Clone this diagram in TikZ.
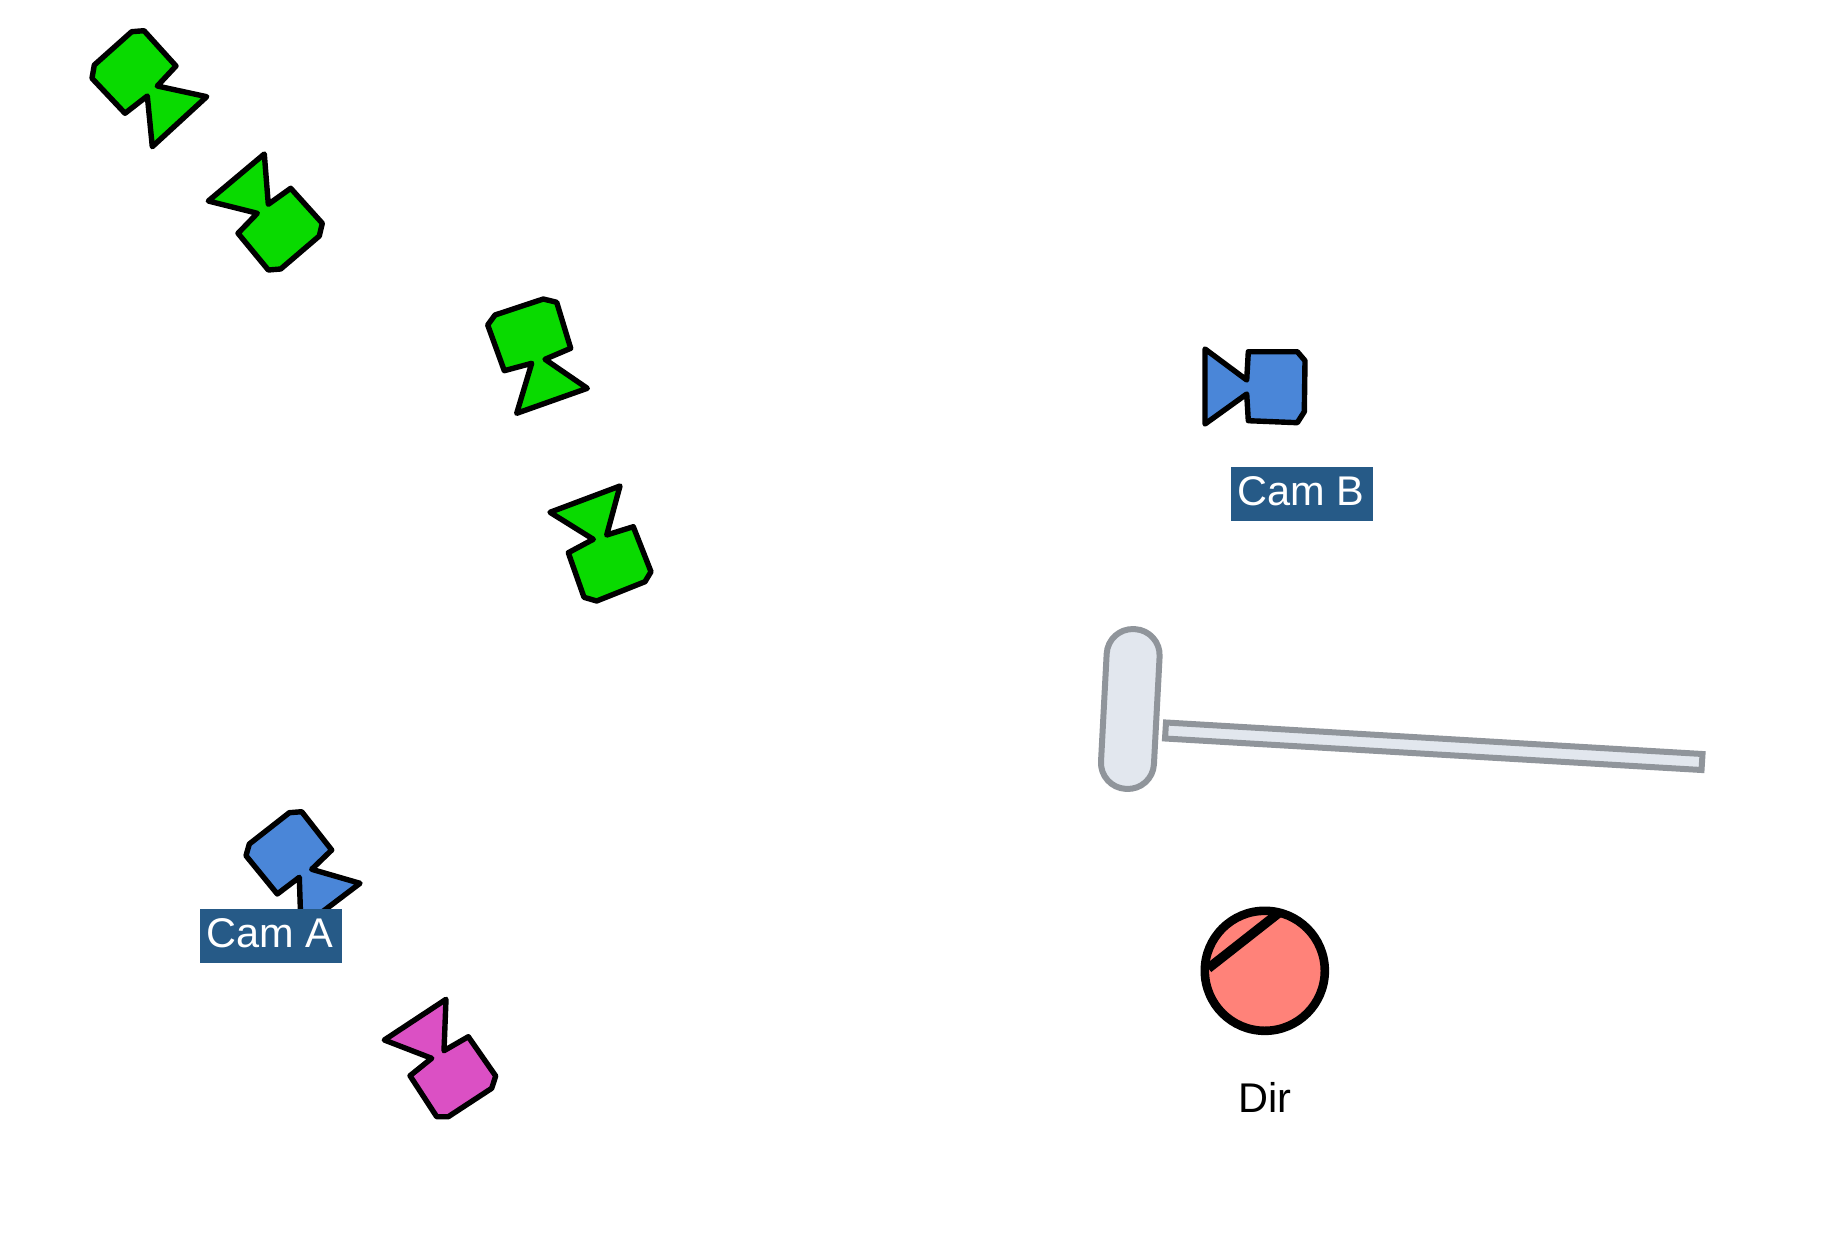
\documentclass[tikz,border=0pt]{standalone}
\usepackage{fontspec}
\setmainfont{Liberation Sans}
\definecolor{camgreen}{HTML}{09DA00}
\definecolor{camblue}{HTML}{4A86D8}
\definecolor{cammagenta}{HTML}{DB50C4}
\definecolor{labelblue}{HTML}{265A87}
\definecolor{propfill}{HTML}{E2E7EE}
\definecolor{propline}{HTML}{90959B}
\definecolor{dirfill}{HTML}{FF8279}
\tikzset{
  cam/.style={draw=black,line width=5.4pt,line join=round},
  prop/.style={draw=propline,fill=propfill,line width=6pt},
  caplabel/.style={fill=labelblue,text=white,inner sep=0pt,minimum width=142pt,text height=38.5pt,text depth=15.5pt,align=center,font=\fontsize{41.5}{50}\selectfont},
  plainlabel/.style={text=black,inner sep=0pt,font=\fontsize{41.5}{50}\selectfont}
}
\begin{document}
\begin{tikzpicture}[x=1pt,y=-1pt]
\useasboundingbox[fill=white] (0,0) rectangle (1846,1241);
% green cameras
\draw[cam,fill=camgreen] (144,30.7)--(176,66)--(157.3,86)--(206.7,96.7)--(152.3,146.7)--(147.3,96)--(125,113.3)--(92,78.3)--(94.3,65)--(131.7,31.7)--cycle;
\draw[cam,fill=camgreen] (264.3,154)--(268.3,204.3)--(290.7,188.3)--(322.3,223.3)--(319.3,236)--(280.7,269)--(268.3,270)--(238,233.3)--(257.3,213.3)--(208.3,201)--cycle;
\draw[cam,fill=camgreen] (543.3,299)--(556.7,302.3)--(570.7,348.3)--(545,359.3)--(587.3,388.3)--(516.7,413.3)--(531.7,363.3)--(504.3,370.7)--(487.7,325)--(495,315)--cycle;
\draw[cam,fill=camgreen] (620,486)--(606.7,535)--(633.3,526.7)--(651,571.7)--(645,581.7)--(596.7,601)--(584,597.3)--(568.3,552.7)--(593.3,539.3)--(550,512.3)--cycle;
% blue cameras
\draw[cam,fill=camblue] (301.7,811.7)--(331.7,850)--(311.7,869.3)--(360,883.3)--(301,928)--(299.3,877.3)--(277.3,894)--(246,855.7)--(249.3,844)--(289.3,812.7)--cycle;
\draw[cam,fill=camblue] (1205,349)--(1246.7,380)--(1248.3,351.7)--(1297.3,351.7)--(1305,360.7)--(1304.3,411.7)--(1297.3,422.7)--(1248.3,420.7)--(1246.7,394)--(1205,424)--cycle;
% magenta camera
\draw[cam,fill=cammagenta] (446,999.3)--(444,1050.7)--(468.3,1036.7)--(495.7,1076)--(491.7,1088.3)--(448.3,1116.7)--(436.7,1116.7)--(410,1075.7)--(431.7,1058.3)--(384.3,1040)--cycle;
% labels
\node[caplabel,anchor=north west] (camA) at (199.5,908.5) {Cam A\hspace{2pt}};
\node[caplabel,anchor=north west] (camB) at (1231,466.5) {Cam B\hspace{2pt}};
% table and bench
\draw[prop,rounded corners=26pt,rotate around={-3:(1130.3,709)}] (1103.8,629) rectangle (1156.8,789);
\draw[prop] (1166,722.5)--(1702.5,754)--(1701.5,770)--(1165,738.5)--cycle;
% director
\draw[draw=black,fill=dirfill,line width=8.6pt] (1264.8,970.8) circle[radius=60];
\coordinate (dirA) at (1208.3,968.3);
\coordinate (dirB) at (1278.3,913.3);
\draw[black,line width=9.5pt] (dirA)--(dirB);
\node[plainlabel] (dir) at (1265,1097.5) {Dir};
\end{tikzpicture}
\end{document}
